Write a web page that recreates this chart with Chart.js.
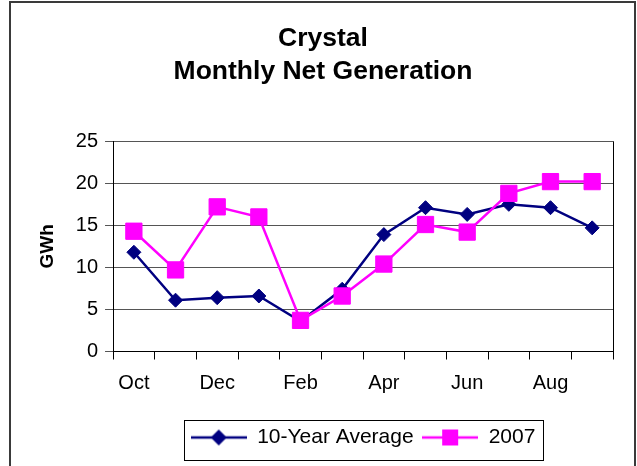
<!DOCTYPE html>
<html>
<head>
<meta charset="utf-8">
<script src="https://cdn.jsdelivr.net/npm/chart.js@4/dist/chart.umd.min.js"></script>
<style>
  html, body { margin: 0; padding: 0; background: #fff; }
  #wrap { width: 637px; height: 466px; }
</style>
</head>
<body>
<div id="wrap"><canvas id="grafico" width="637" height="466"></canvas></div>
<script>
const meses = ["Oct", "Nov", "Dec", "Jan", "Feb", "Mar", "Apr", "May", "Jun", "Jul", "Aug", "Sep"];
const media10 = [11.8, 6.1, 6.4, 6.6, 3.6, 7.4, 13.9, 17.1, 16.3, 17.5, 17.1, 14.7];
const ano2007 = [14.3, 9.7, 17.2, 16.0, 3.7, 6.6, 10.4, 15.1, 14.2, 18.8, 20.2, 20.2];
const titulo = ["Crystal", "Monthly Net Generation"];
const eixoY = "GWh";

const fonte = "'Liberation Sans', Arial, sans-serif";
const azul = "#000080";
const rosa = "#ff00ff";

// little line+marker pictures for the legend
function iconeLegenda(cor, tipo){
    const c = document.createElement("canvas");
    c.width = 56;
    c.height = 18;
    const g = c.getContext("2d");
    g.strokeStyle = cor;
    g.lineWidth = 2.5;
    g.beginPath();
    g.moveTo(0, 9);
    g.lineTo(56, 9);
    g.stroke();
    g.fillStyle = cor;
    g.beginPath();
    if(tipo == "diamante"){
        g.moveTo(28, 1);
        g.lineTo(36, 9);
        g.lineTo(28, 17);
        g.lineTo(20, 9);
        g.closePath();
    }else{
        g.rect(20, 1, 16, 16);
    }
    g.fill();
    return c;
}

const icones = [iconeLegenda(azul, "diamante"), iconeLegenda(rosa, "quadrado")];

const molduras = {
    id: "molduras",
    afterDraw(chart){
        const ctx = chart.ctx;
        const area = chart.chartArea;
        ctx.save();
        // plot right edge
        ctx.strokeStyle = "#000";
        ctx.lineWidth = 1;
        ctx.beginPath();
        ctx.moveTo(Math.round(area.right) + 0.5, area.top);
        ctx.lineTo(Math.round(area.right) + 0.5, area.bottom);
        ctx.stroke();
        // legend box
        const leg = chart.legend;
        const caixas = leg.legendHitBoxes;
        if(caixas && caixas.length){
            const esq = Math.min(...caixas.map(b => b.left)) - 7;
            const dir = Math.max(...caixas.map(b => b.left + b.width)) + 7;
            ctx.strokeStyle = "#000";
            ctx.lineWidth = 1;
            ctx.strokeRect(Math.round(esq) + 0.5, Math.round(leg.top) + 1.5, Math.round(dir - esq), Math.round(leg.bottom - leg.top));
        }
        // outer border
        ctx.strokeStyle = "#3a3a3a";
        ctx.lineWidth = 2;
        ctx.strokeRect(10, 2, 625, 480);
        ctx.restore();
    }
};

new Chart(document.getElementById("grafico"), {
    type: "line",
    data: {
        labels: meses,
        datasets: [
            {
                label: "10-Year Average",
                data: media10,
                borderColor: azul,
                backgroundColor: azul,
                borderWidth: 2.5,
                pointStyle: "rectRot",
                pointRadius: 7,
                pointBorderWidth: 1,
                tension: 0,
                order: 1
            },
            {
                label: "2007",
                data: ano2007,
                borderColor: rosa,
                backgroundColor: rosa,
                borderWidth: 2.5,
                pointStyle: "rect",
                pointRadius: 11.5,
                pointBorderWidth: 1,
                tension: 0,
                order: 0
            }
        ]
    },
    options: {
        responsive: false,
        animation: false,
        layout: {
            padding: { left: 33, right: 24, top: 0, bottom: 8 }
        },
        plugins: {
            title: {
                display: true,
                text: titulo,
                color: "#000",
                font: { family: fonte, size: 26.5, weight: "bold", lineHeight: 1.25 },
                padding: { top: 22, bottom: 53 }
            },
            legend: {
                position: "bottom",
                fullSize: false,
                labels: {
                    usePointStyle: true,
                    pointStyleWidth: 56,
                    padding: 8.5,
                    color: "#000",
                    font: { family: fonte, size: 21 },
                    sort: (a, b) => a.datasetIndex - b.datasetIndex,
                    generateLabels(chart){
                        const itens = Chart.defaults.plugins.legend.labels.generateLabels(chart);
                        itens.forEach(it => { it.pointStyle = icones[it.datasetIndex]; });
                        return itens;
                    }
                }
            },
            tooltip: { enabled: false }
        },
        scales: {
            x: {
                offset: true,
                grid: {
                    offset: true,
                    drawOnChartArea: false,
                    drawTicks: true,
                    tickLength: 8,
                    color: "#000"
                },
                border: { color: "#000", width: 1 },
                ticks: {
                    autoSkip: false,
                    maxRotation: 0,
                    padding: 12,
                    color: "#000",
                    font: { family: fonte, size: 20 },
                    callback(valor, i){
                        return i % 2 == 0 ? meses[i] : "";
                    }
                },
                title: {
                    display: true,
                    text: "",
                    font: { size: 1, lineHeight: 1 },
                    padding: { top: 10, bottom: 0 }
                }
            },
            y: {
                min: 0,
                max: 25,
                grid: {
                    color: "#555",
                    tickLength: 8,
                    drawTicks: true
                },
                border: { color: "#000", width: 1 },
                ticks: {
                    stepSize: 5,
                    padding: 7,
                    color: "#000",
                    font: { family: fonte, size: 20 }
                },
                title: {
                    display: true,
                    text: eixoY,
                    color: "#000",
                    font: { family: fonte, size: 19, weight: "bold" },
                    padding: { top: 3, bottom: 10 }
                }
            }
        }
    },
    plugins: [molduras]
});
</script>
</body>
</html>
